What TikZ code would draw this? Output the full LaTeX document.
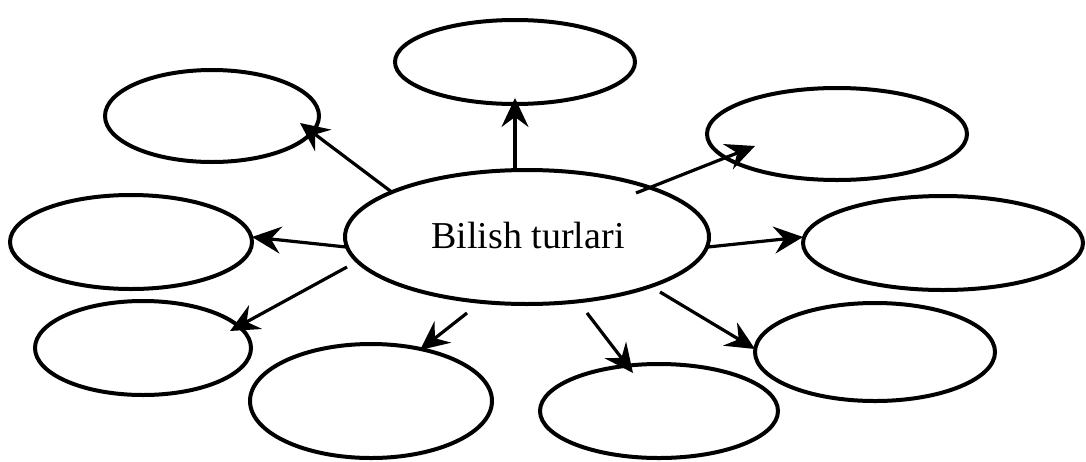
\documentclass[tikz,border=0pt]{standalone}
\usepackage{fontspec}
\setmainfont{Liberation Serif}
\usetikzlibrary{shapes.geometric,arrows.meta}
\begin{document}
\begin{tikzpicture}[x=1pt,y=-1pt,
  oval/.style={draw,ellipse,line width=4pt,inner sep=0pt},
  arr/.style={line width=3.2pt,-{Stealth[length=29pt,width=27pt,inset=10pt]}}]
\useasboundingbox (0,0) rectangle (1086,461);
\node[oval,minimum width=364pt,minimum height=134pt] (c) at (527,237) {};
\node (ct) at (528,235) {\fontsize{38}{40}\selectfont Bilish turlari};
\node[oval,minimum width=240pt,minimum height=84pt] (t) at (515,62) {};
\node[oval,minimum width=214pt,minimum height=92pt] (tl) at (212,116) {};
\node[oval,minimum width=260pt,minimum height=92pt] (tr) at (837,134) {};
\node[oval,minimum width=242pt,minimum height=94pt] (l) at (131,242) {};
\node[oval,minimum width=280pt,minimum height=94pt] (r) at (943,243) {};
\node[oval,minimum width=216pt,minimum height=94pt] (ll) at (143,348) {};
\node[oval,minimum width=242pt,minimum height=114pt] (bl) at (371,401) {};
\node[oval,minimum width=238pt,minimum height=94pt] (bc) at (659,411) {};
\node[oval,minimum width=240pt,minimum height=98pt] (lr) at (875,352) {};
\coordinate (s1) at (393,193); \coordinate (e1) at (300,123);
\coordinate (s2) at (515,170); \coordinate (e2) at (515,98);
\coordinate (s3) at (636,193); \coordinate (e3) at (755,146);
\coordinate (s4) at (346,247); \coordinate (e4) at (252,237);
\coordinate (s5) at (708,247); \coordinate (e5) at (803,237);
\coordinate (s6) at (347,267); \coordinate (e6) at (230,331);
\coordinate (s7) at (467,313); \coordinate (e7) at (420,350);
\coordinate (s8) at (587,313); \coordinate (e8) at (633,373);
\coordinate (s9) at (660,292); \coordinate (e9) at (755,349);
\foreach \i in {1,...,9} \draw[arr] (s\i) -- (e\i);
\end{tikzpicture}
\end{document}
